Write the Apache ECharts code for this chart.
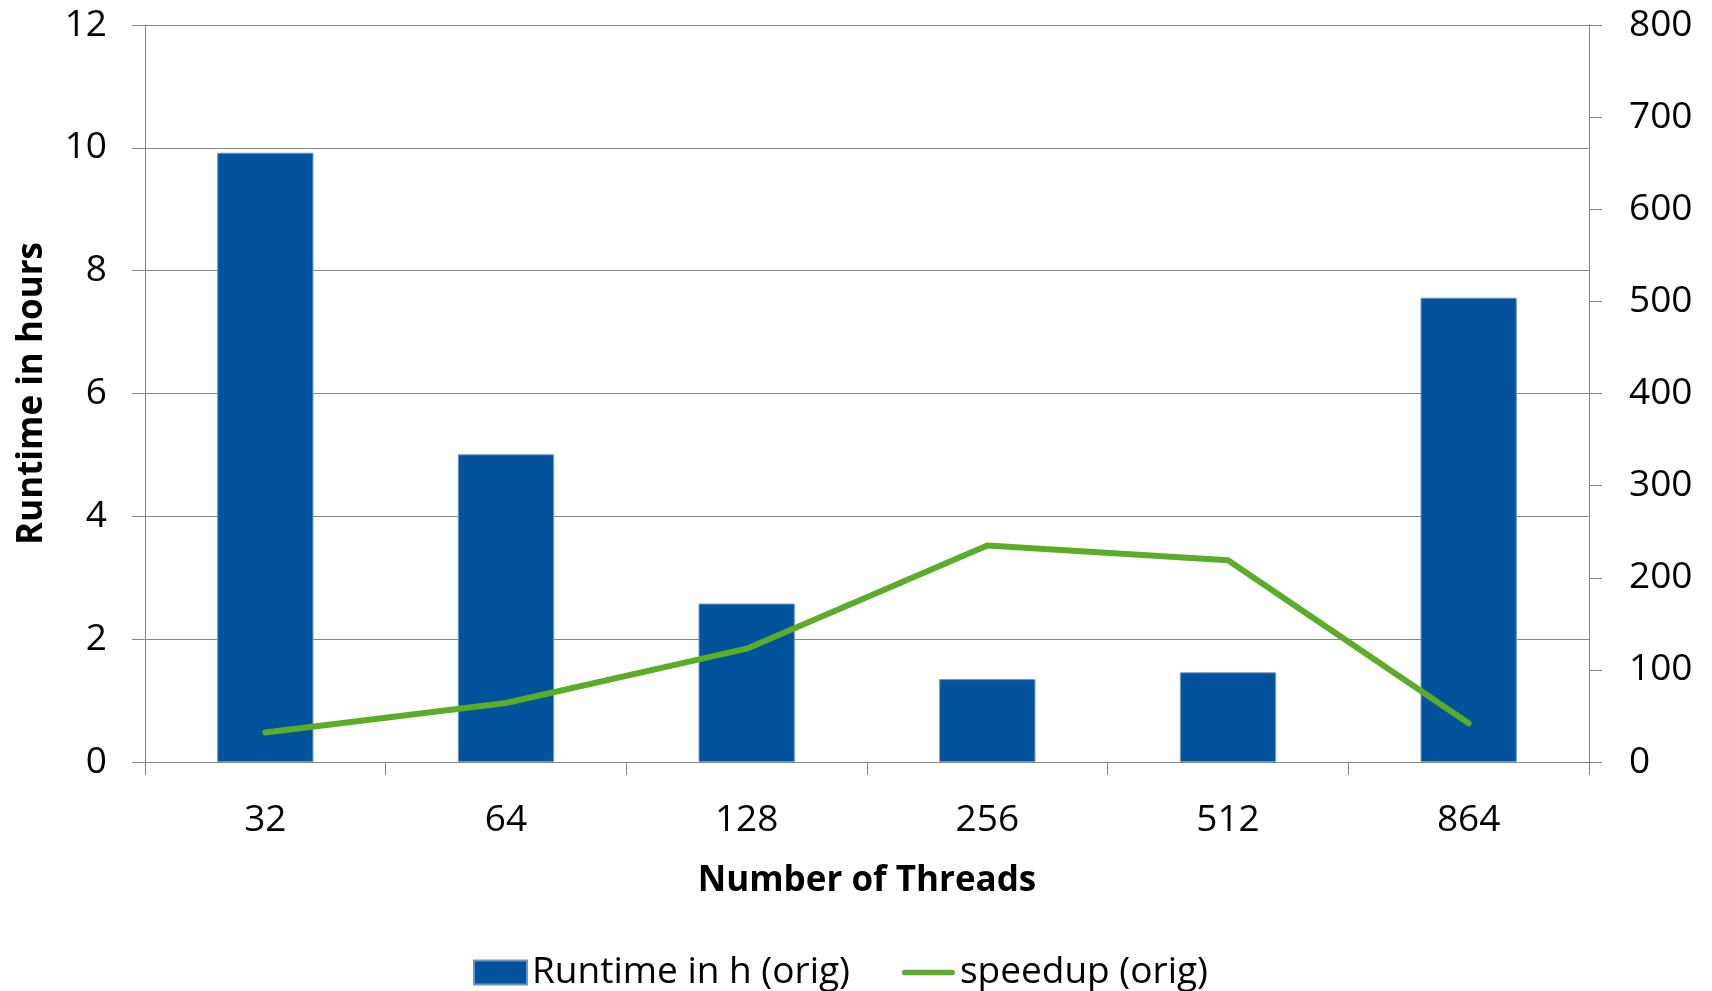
<!DOCTYPE html>
<html>
<head>
<meta charset="utf-8">
<script src="https://cdn.jsdelivr.net/npm/echarts@6/dist/echarts.min.js"></script>
<style>
html,body{margin:0;padding:0;background:#fff;}
#chart{width:1712px;height:991px;}
</style>
</head>
<body>
<div id="chart"></div>
<script>
const categories = ['32', '64', '128', '256', '512', '864'];
const runtimeHours = [9.92, 5.01, 2.58, 1.35, 1.46, 7.56];
const speedup = [32, 64, 123, 235, 219, 42];
const leftTicks = { min: 0, max: 12, interval: 2 };
const rightTicks = { min: 0, max: 800, interval: 100 };

const FONT = '"Open Sans", sans-serif';
const AXIS_COLOR = '#868686';

const chart = echarts.init(document.getElementById('chart'), null, { renderer: 'canvas' });
chart.setOption({
  backgroundColor: '#ffffff',
  animation: false,
  grid: { left: 145, right: 123, top: 25, bottom: 229, containLabel: false, outerBoundsMode: 'none' },
  legend: {
    top: 949,
    left: 468,
    itemWidth: 53,
    itemHeight: 24,
    itemGap: 52,
    textStyle: { fontFamily: FONT, fontSize: 37, color: '#000' },
    data: [
      { name: 'Runtime in h (orig)', icon: 'rect' },
      { name: 'speedup (orig)', icon: 'path://M3,0 L53,0 A3,3 0 0 1 53,6 L3,6 A3,3 0 0 1 3,0 Z' }
    ]
  },
  xAxis: {
    type: 'category',
    data: categories,
    boundaryGap: true,
    name: 'Number of Threads',
    nameLocation: 'middle',
    nameGap: 102,
    nameTextStyle: { fontFamily: FONT, fontSize: 35, fontWeight: 'bold', color: '#000' },
    axisLine: { lineStyle: { color: AXIS_COLOR, width: 1 } },
    axisTick: { show: true, length: 13, lineStyle: { color: AXIS_COLOR } },
    axisLabel: { fontFamily: FONT, fontSize: 37, color: '#000', margin: 40 },
    splitLine: { show: false }
  },
  yAxis: [
    {
      type: 'value',
      min: leftTicks.min, max: leftTicks.max, interval: leftTicks.interval,
      name: 'Runtime in hours',
      nameLocation: 'middle',
      nameRotate: 90,
      nameGap: 95,
      nameTextStyle: { fontFamily: FONT, fontSize: 35, fontWeight: 'bold', color: '#000' },
      axisLine: { show: true, lineStyle: { color: AXIS_COLOR, width: 1 } },
      axisTick: { show: true, length: 13, lineStyle: { color: AXIS_COLOR } },
      axisLabel: { fontFamily: FONT, fontSize: 37, color: '#000', margin: 38 },
      splitLine: { show: true, lineStyle: { color: AXIS_COLOR, width: 1 } }
    },
    {
      type: 'value',
      position: 'right',
      min: rightTicks.min, max: rightTicks.max, interval: rightTicks.interval,
      axisLine: { show: true, lineStyle: { color: AXIS_COLOR, width: 1 } },
      axisTick: { show: true, length: 13, lineStyle: { color: AXIS_COLOR } },
      axisLabel: { fontFamily: FONT, fontSize: 37, color: '#000', margin: 40 },
      splitLine: { show: false }
    }
  ],
  series: [
    {
      name: 'Runtime in h (orig)',
      type: 'bar',
      yAxisIndex: 0,
      data: runtimeHours,
      barWidth: '40%',
      itemStyle: { color: '#02539C', borderColor: '#6A98C8', borderWidth: 1 }
    },
    {
      name: 'speedup (orig)',
      type: 'line',
      yAxisIndex: 1,
      data: speedup,
      symbol: 'none',
      lineStyle: { color: '#5BAD27', width: 6, cap: 'round', join: 'round' },
      itemStyle: { color: '#5BAD27' }
    }
  ]
});
</script>
</body>
</html>
